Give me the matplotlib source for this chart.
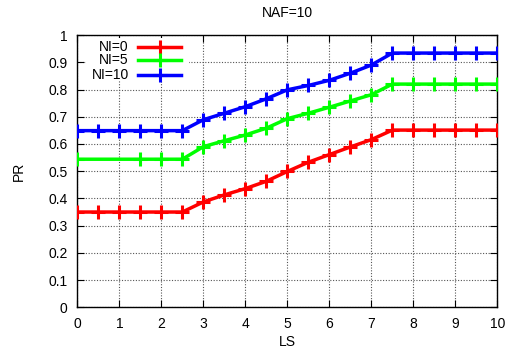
import numpy as np
import matplotlib
matplotlib.use('Agg')
import matplotlib.pyplot as plt
from matplotlib.lines import Line2D
from matplotlib.patches import Rectangle

# Data
ls_full = [0, 0.5, 1, 1.5, 2, 2.5, 3, 3.5, 4, 4.5, 5, 5.5, 6, 6.5, 7, 7.5, 8, 8.5, 9, 9.5, 10]
ls_green = [0, 1.5, 2, 2.5, 3, 3.5, 4, 4.5, 5, 5.5, 6, 6.5, 7, 7.5, 8, 8.5, 9, 9.5, 10]

pr_ni0 = [0.35, 0.35, 0.35, 0.35, 0.35, 0.35, 0.387, 0.413, 0.436, 0.463, 0.499,
          0.533, 0.561, 0.589, 0.616, 0.651, 0.651, 0.651, 0.651, 0.651, 0.651]
pr_ni5 = [0.544, 0.544, 0.544, 0.544, 0.59, 0.612, 0.633, 0.658, 0.693,
          0.713, 0.735, 0.758, 0.781, 0.82, 0.82, 0.82, 0.82, 0.82, 0.82]
pr_ni10 = [0.649, 0.649, 0.649, 0.649, 0.649, 0.649, 0.689, 0.713, 0.737, 0.766, 0.799,
           0.815, 0.834, 0.86, 0.89, 0.934, 0.934, 0.934, 0.934, 0.934, 0.934]

labels = ['NI=0', 'NI=5', 'NI=10']
colors = ['#ff0000', '#00ff00', '#0000ff']

plt.rcParams['font.family'] = ['Liberation Sans', 'DejaVu Sans']

fig = plt.figure(figsize=(5.07, 3.51), dpi=100)
ax = fig.add_axes([0.1525, 0.1245, 0.8285, 0.7755])

series = [(ls_full, pr_ni0), (ls_green, pr_ni5), (ls_full, pr_ni10)]
for (xs, ys), lab, col in zip(series, labels, colors):
    ax.plot(xs, ys, color=col, linewidth=2.5, marker='+', markersize=10,
            markeredgewidth=2.2, label=lab, zorder=3)

ax.set_xlim(0, 10)
ax.set_ylim(0, 1)
ax.set_xticks(np.arange(0, 11, 1))
ax.set_yticks(np.arange(0, 1.01, 0.1))
ax.set_yticklabels(['0', '0.1', '0.2', '0.3', '0.4', '0.5', '0.6', '0.7', '0.8', '0.9', '1'])
ax.tick_params(direction='in', top=True, right=True, labelsize=10, length=5, width=0.8, pad=7)
ax.grid(True, color='#555555', linestyle=(0, (1, 1.5)), linewidth=0.8)

for axis in ['top', 'bottom', 'left', 'right']:
    ax.spines[axis].set_linewidth(1.0)

ax.set_xlabel('LS', fontsize=10, labelpad=3)
ax.set_ylabel('PR', fontsize=10, labelpad=16)
ax.set_title('NAF=10', fontsize=10, pad=13)

# gnuplot-style key: blank the grid behind it, right-aligned labels, sample line
ax.add_patch(Rectangle((0.02, 0.83), 0.245, 0.16, transform=ax.transAxes,
                       facecolor='white', edgecolor='none', zorder=2))
key_rows = [0.956, 0.909, 0.854]
for lab, col, yk in zip(labels, colors, key_rows):
    ax.text(0.123, yk, lab, transform=ax.transAxes, ha='right', va='center', fontsize=10,
            zorder=5)
    ax.add_line(Line2D([0.145, 0.247], [yk, yk], transform=ax.transAxes, color=col,
                       linewidth=2.5, zorder=5))
    ax.add_line(Line2D([0.196], [yk], transform=ax.transAxes, color=col, marker='+',
                       markersize=10, markeredgewidth=2.2, zorder=5))

plt.savefig('out.png', dpi=100)
plt.close()
